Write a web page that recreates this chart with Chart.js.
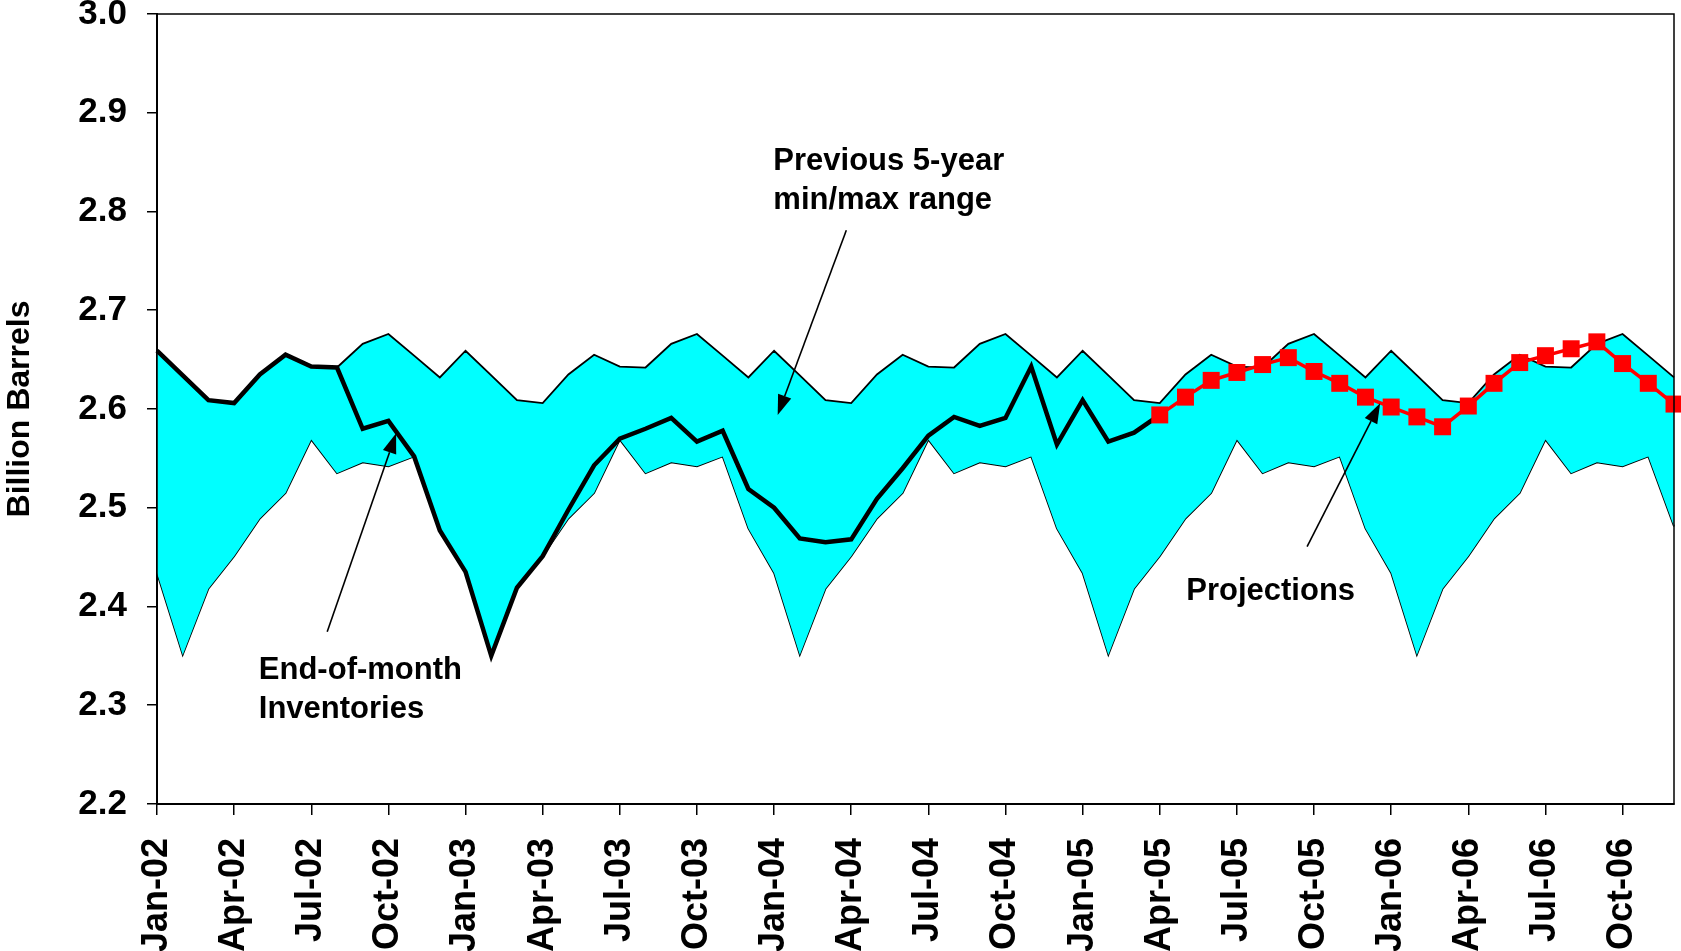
<!DOCTYPE html>
<html>
<head>
<meta charset="utf-8">
<script src="https://cdn.jsdelivr.net/npm/chart.js@4.4.0/dist/chart.umd.min.js"></script>
<style>
  html, body { margin: 0; padding: 0; background: #fff; }
  #wrap { width: 1681px; height: 951px; position: relative; }
</style>
</head>
<body>
<div id="wrap"><canvas id="stocksChart"></canvas></div>
<script>
// months on the x axis, Jan-02 .. Dec-06
const months = [
  'Jan-02','Feb-02','Mar-02','Apr-02','May-02','Jun-02','Jul-02','Aug-02','Sep-02','Oct-02','Nov-02','Dec-02',
  'Jan-03','Feb-03','Mar-03','Apr-03','May-03','Jun-03','Jul-03','Aug-03','Sep-03','Oct-03','Nov-03','Dec-03',
  'Jan-04','Feb-04','Mar-04','Apr-04','May-04','Jun-04','Jul-04','Aug-04','Sep-04','Oct-04','Nov-04','Dec-04',
  'Jan-05','Feb-05','Mar-05','Apr-05','May-05','Jun-05','Jul-05','Aug-05','Sep-05','Oct-05','Nov-05','Dec-05',
  'Jan-06','Feb-06','Mar-06','Apr-06','May-06','Jun-06','Jul-06','Aug-06','Sep-06','Oct-06','Nov-06','Dec-06'
];

// previous 5-year range, billion barrels
const rangeMax = [
  2.659, 2.634, 2.609, 2.606, 2.635, 2.655, 2.643, 2.642, 2.666, 2.676, 2.654, 2.632,
  2.659, 2.634, 2.609, 2.606, 2.635, 2.655, 2.643, 2.642, 2.666, 2.676, 2.654, 2.632,
  2.659, 2.634, 2.609, 2.606, 2.635, 2.655, 2.643, 2.642, 2.666, 2.676, 2.654, 2.632,
  2.659, 2.634, 2.609, 2.606, 2.635, 2.655, 2.643, 2.642, 2.666, 2.676, 2.654, 2.632,
  2.659, 2.634, 2.609, 2.606, 2.635, 2.655, 2.643, 2.642, 2.666, 2.676, 2.654, 2.632
];
const rangeMin = [
  2.434, 2.351, 2.418, 2.451, 2.489, 2.515, 2.569, 2.535, 2.546, 2.542, 2.552, 2.479,
  2.434, 2.351, 2.418, 2.451, 2.489, 2.515, 2.569, 2.535, 2.546, 2.542, 2.552, 2.479,
  2.434, 2.351, 2.418, 2.451, 2.489, 2.515, 2.569, 2.535, 2.546, 2.542, 2.552, 2.479,
  2.434, 2.351, 2.418, 2.451, 2.489, 2.515, 2.569, 2.535, 2.546, 2.542, 2.552, 2.479,
  2.434, 2.351, 2.418, 2.451, 2.489, 2.515, 2.569, 2.535, 2.546, 2.542, 2.552, 2.481
];

// end-of-month inventories, Jan-02 .. Apr-05
const inventories = [
  2.659, 2.634, 2.609, 2.606, 2.635, 2.655, 2.643, 2.642, 2.580, 2.588, 2.552, 2.477,
  2.435, 2.350, 2.419, 2.451, 2.498, 2.543, 2.570, 2.580, 2.591, 2.567, 2.578, 2.519,
  2.500, 2.469, 2.465, 2.468, 2.509, 2.540, 2.573, 2.592, 2.583, 2.591, 2.643, 2.564,
  2.609, 2.567, 2.576, 2.594
];

// projections, Apr-05 .. Dec-06
const projStart = 'Apr-05';
const projections = [
  2.594, 2.612, 2.629, 2.637, 2.645, 2.652, 2.638, 2.626, 2.612,
  2.602, 2.592, 2.582, 2.603, 2.626, 2.647, 2.654, 2.661, 2.668, 2.646, 2.626, 2.605
];

// text notes: position given as [month index, value]
const notes = [
  { lines: ['Previous 5-year', 'min/max range'], at: [23.97, 2.851], from: [26.81, 2.781], to: [24.14, 2.594] },
  { lines: ['End-of-month', 'Inventories'], at: [3.96, 2.335], from: [6.62, 2.3745], to: [9.30, 2.5754] },
  { lines: ['Projections'], at: [40.03, 2.415], from: [44.73, 2.4606], to: [47.57, 2.6058] }
];

const FONT = '"Liberation Sans", Arial, sans-serif';

const p0 = months.indexOf(projStart);
const invData = months.map((m, i) => i < inventories.length ? inventories[i] : null);
const projData = months.map((m, i) => i >= p0 ? projections[i - p0] : null);

const frameAndNotes = {
  id: 'frameAndNotes',
  afterDraw(chart) {
    const { ctx, chartArea: a, scales } = chart;
    ctx.save();
    ctx.strokeStyle = '#000';
    ctx.lineWidth = 1.5;
    ctx.strokeRect(a.left, a.top, a.right - a.left, a.bottom - a.top);

    ctx.fillStyle = '#000';
    ctx.font = 'bold 31px ' + FONT;
    ctx.textAlign = 'left';
    ctx.textBaseline = 'middle';
    notes.forEach(n => {
      const tx = scales.x.getPixelForValue(n.at[0]);
      const ty = scales.y.getPixelForValue(n.at[1]);
      n.lines.forEach((t, k) => ctx.fillText(t, tx, ty + k * 39));

      const x1 = scales.x.getPixelForValue(n.from[0]);
      const y1 = scales.y.getPixelForValue(n.from[1]);
      const x2 = scales.x.getPixelForValue(n.to[0]);
      const y2 = scales.y.getPixelForValue(n.to[1]);
      const ang = Math.atan2(y2 - y1, x2 - x1);
      const hl = 20, hw = 7;
      const bx = x2 - hl * Math.cos(ang), by = y2 - hl * Math.sin(ang);
      ctx.lineWidth = 1.6;
      ctx.beginPath();
      ctx.moveTo(x1, y1);
      ctx.lineTo(bx, by);
      ctx.stroke();
      ctx.beginPath();
      ctx.moveTo(x2, y2);
      ctx.lineTo(bx + hw * Math.sin(ang), by - hw * Math.cos(ang));
      ctx.lineTo(bx - hw * Math.sin(ang), by + hw * Math.cos(ang));
      ctx.closePath();
      ctx.fill();
    });
    ctx.restore();
  }
};

// keep the plot box where the original puts it
function fixX(s) {
  s.height = 147;
  s.paddingLeft = 0;
  s.paddingRight = 0;
}
function fixY(s) {
  s.width = 157;
  s.paddingTop = 0;
  s.paddingBottom = 0;
}

const ctx = document.getElementById('stocksChart').getContext('2d');
new Chart(ctx, {
  type: 'line',
  data: {
    labels: months,
    datasets: [
      {
        label: 'Projections',
        data: projData,
        borderColor: '#FF0000',
        backgroundColor: '#FF0000',
        borderWidth: 3.5,
        pointStyle: 'rect',
        pointRadius: 12,
        pointBorderWidth: 0,
        fill: false,
        tension: 0,
      },
      {
        label: 'End-of-month Inventories',
        data: invData,
        borderColor: '#000000',
        borderWidth: 4.5,
        pointRadius: 0,
        fill: false,
        tension: 0,
      },
      {
        label: 'Previous 5-year max',
        data: rangeMax,
        borderColor: '#000000',
        backgroundColor: '#00FFFF',
        borderWidth: 1.8,
        pointRadius: 0,
        fill: '+1',
        tension: 0,
      },
      {
        label: 'Previous 5-year min',
        data: rangeMin,
        borderColor: '#000000',
        borderWidth: 1.8,
        pointRadius: 0,
        fill: false,
        tension: 0,
      },
    ],
  },
  options: {
    responsive: true,
    maintainAspectRatio: false,
    animation: false,
    layout: { autoPadding: false, padding: { top: 14, right: 7, left: 0, bottom: 0 } },
    plugins: {
      legend: { display: false },
      tooltip: { enabled: false },
    },
    scales: {
      x: {
        type: 'category',
        offset: false,
        afterFit: fixX,
        border: { color: '#000', width: 2 },
        grid: {
          drawOnChartArea: false,
          tickLength: 11,
          lineWidth: 1.5,
          color: (c) => (c.index % 3 === 0 ? '#000' : 'rgba(0,0,0,0)'),
        },
        ticks: {
          autoSkip: false,
          minRotation: 90,
          maxRotation: 90,
          padding: 23,
          color: '#000',
          font: { family: FONT, size: 36, weight: 'bold' },
          callback: function (v, i) { return i % 3 === 0 ? this.getLabelForValue(v) : ''; },
        },
      },
      y: {
        min: 2.2,
        max: 3.0,
        afterFit: fixY,
        border: { color: '#000', width: 2 },
        grid: {
          drawOnChartArea: false,
          tickLength: 10,
          lineWidth: 1.5,
          color: '#000',
        },
        ticks: {
          stepSize: 0.1,
          padding: 20,
          color: '#000',
          font: { family: FONT, size: 35, weight: 'bold' },
          callback: (v) => Number(v).toFixed(1),
        },
        title: {
          display: true,
          text: 'Billion Barrels',
          color: '#000',
          padding: { top: 1, bottom: 0 },
          font: { family: FONT, size: 32, weight: 'bold' },
        },
      },
    },
  },
  plugins: [frameAndNotes],
});
</script>
</body>
</html>
